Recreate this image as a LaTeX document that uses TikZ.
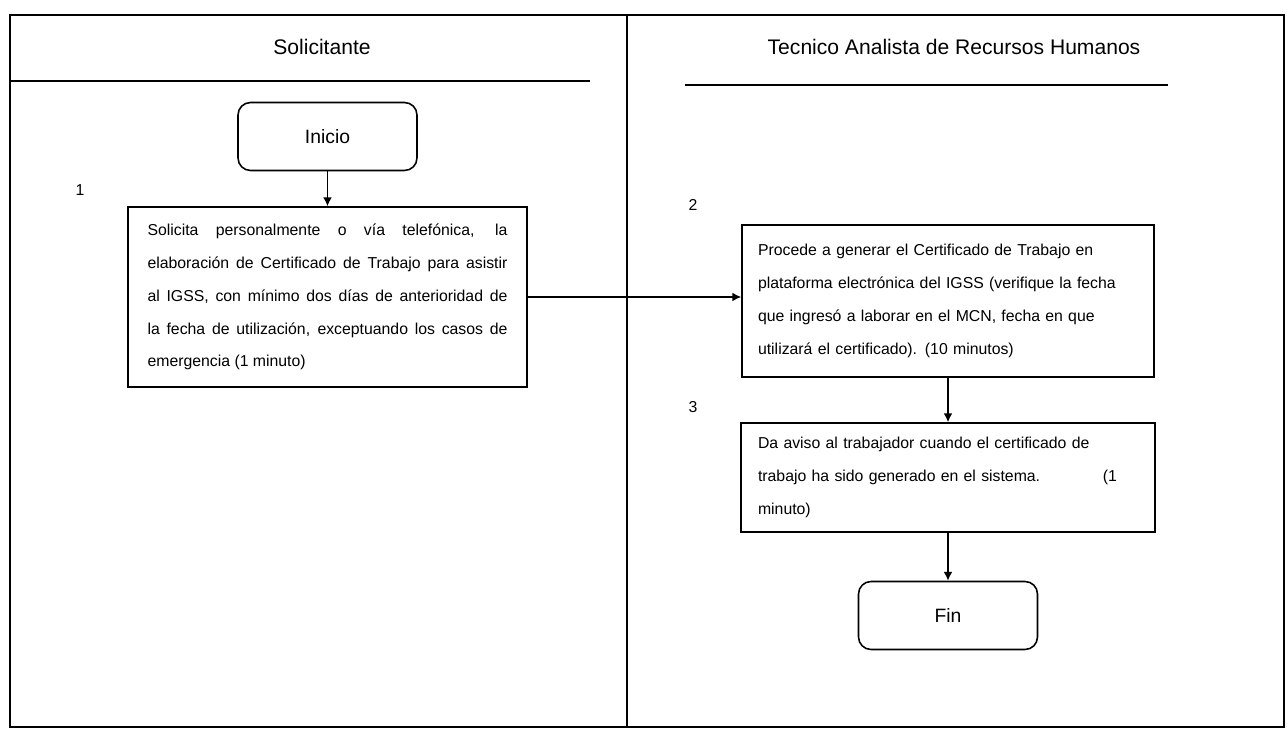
\documentclass[tikz,border=0pt]{standalone}
\usepackage{fontspec}
\setmainfont{Liberation Sans}
\usetikzlibrary{arrows.meta}
\begin{document}
\begin{tikzpicture}[x=0.02cm,y=-0.02cm,
  lane/.style={line width=1pt},
  terminal/.style={draw,line width=0.9pt,rounded corners=0.25cm,minimum width=3.58cm,minimum height=1.36cm,font=\fontsize{11}{13}\selectfont},
  task/.style={draw,line width=0.9pt,inner sep=0pt,font=\fontsize{9}{18.7}\selectfont},
  flow/.style={line width=0.9pt,-{Latex[length=5pt,width=5pt]}},
  lanetitle/.style={font=\fontsize{12}{14}\selectfont},
  stepno/.style={font=\fontsize{9}{11}\selectfont}]
\useasboundingbox (0,0) rectangle (1288,732);

% swimlane frame
\draw[lane] (627,15) -- (10,15) -- (10,727) -- (1284,727) -- (1284,15) -- (627,15);
\draw[lane] (627,15) -- (627,727);
% header separators
\draw[lane] (10,81) -- (590,81);
\draw[lane] (685,85) -- (1168,85);

% lane titles
\node[lanetitle] (t1) at (322,47) {Solicitante};
\node[lanetitle] (t2) at (954,47) {Tecnico Analista de Recursos Humanos};

% step numbers
\node[stepno] (n1) at (80,190) {1};
\node[stepno] (n2) at (693,205) {2};
\node[stepno] (n3) at (693,407) {3};

% flow nodes
\node[terminal] (inicio) at (327.5,136.5) {Inicio};

\node[task,minimum width=7.98cm,minimum height=3.6cm,text width=7.2cm,align=justify] (solicita) at (327.5,297)
  {Solicita personalmente o vía telefónica, la\linebreak
   elaboración de Certificado de Trabajo para asistir\linebreak
   al IGSS, con mínimo dos días de anterioridad de\linebreak
   la fecha de utilización, exceptuando los casos de\linebreak
   emergencia (1 minuto)};

\node[task,minimum width=8.24cm,minimum height=3.04cm,text width=7.6cm,align=left] (genera) at (948,301)
  {Procede a generar el Certificado de Trabajo en\\
   plataforma electrónica del IGSS (verifique la fecha\\
   que ingresó a laborar en el MCN, fecha en que\\
   utilizará el certificado). (10 minutos)};

\node[task,minimum width=8.28cm,minimum height=2.18cm,text width=7.6cm,align=left] (aviso) at (948,477.5)
  {Da aviso al trabajador cuando el certificado de\\
   \makebox[6.9cm][l]{trabajo ha sido generado en el sistema.}(1\\
   minuto)};

\node[terminal] (fin) at (948,615.5) {Fin};

% connectors
\draw[flow] (inicio) -- (solicita);
\draw[flow] (solicita.east) -- (solicita.east -| genera.west);
\draw[flow] (genera) -- (aviso);
\draw[flow] (aviso) -- (fin);
\end{tikzpicture}
\end{document}
